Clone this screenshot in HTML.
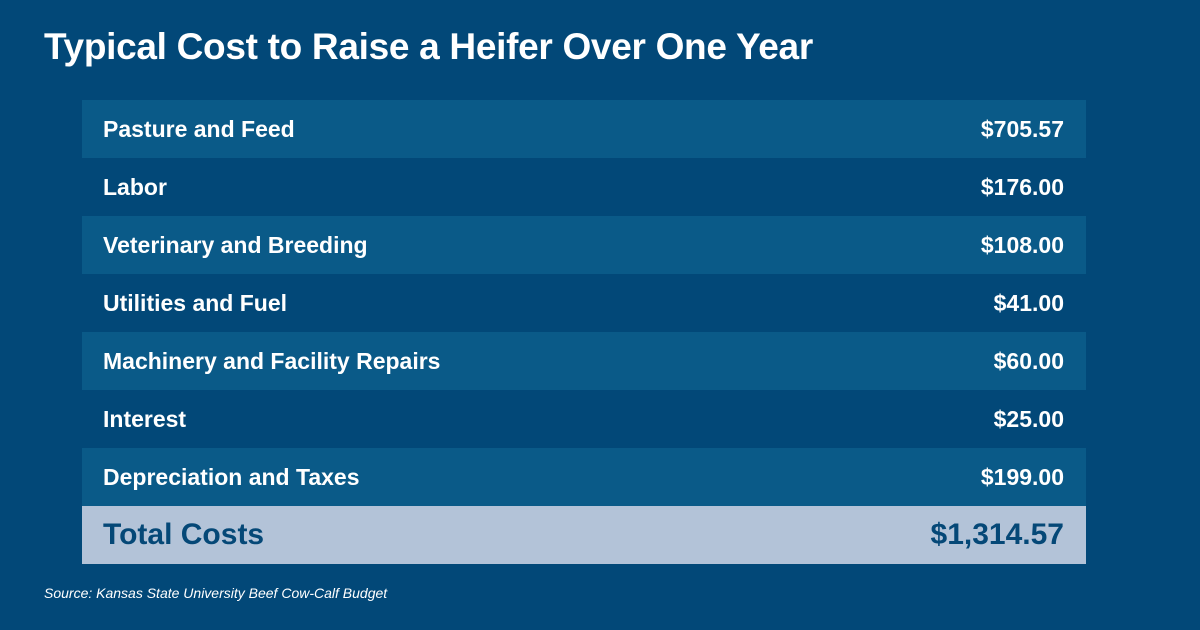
<!DOCTYPE html>
<html><head><meta charset="utf-8"><style>
body{margin:0;width:1200px;height:630px;background:#024878;font-family:"Liberation Sans Narrow","Liberation Sans",sans-serif;color:#fff;position:relative;overflow:hidden}
h1{position:absolute;left:44px;top:26px;margin:0;font-size:37px;font-weight:bold;letter-spacing:-0.3px;white-space:nowrap}
.t{position:absolute;left:82px;top:100px;width:1004px}
.r{height:58px;display:flex;justify-content:space-between;align-items:center;padding:0 22px 0 21px;font-size:23px;font-weight:bold}
.r.l{background:#0a5a88}
.r.tot{background:#b3c3d8;color:#054877;font-size:30px;height:58px}
.src{position:absolute;left:44px;top:585px;font-family:"Liberation Sans",sans-serif;font-style:italic;font-size:14px}
</style></head><body>
<h1>Typical Cost to Raise a Heifer Over One Year</h1>
<div class="t">
<div class="r l"><span>Pasture and Feed</span><span>$705.57</span></div>
<div class="r"><span>Labor</span><span>$176.00</span></div>
<div class="r l"><span>Veterinary and Breeding</span><span>$108.00</span></div>
<div class="r"><span>Utilities and Fuel</span><span>$41.00</span></div>
<div class="r l"><span>Machinery and Facility Repairs</span><span>$60.00</span></div>
<div class="r"><span>Interest</span><span>$25.00</span></div>
<div class="r l"><span>Depreciation and Taxes</span><span>$199.00</span></div>
<div class="r tot"><span>Total Costs</span><span>$1,314.57</span></div>
</div>
<div class="src">Source: Kansas State University Beef Cow-Calf Budget</div>
</body></html>
